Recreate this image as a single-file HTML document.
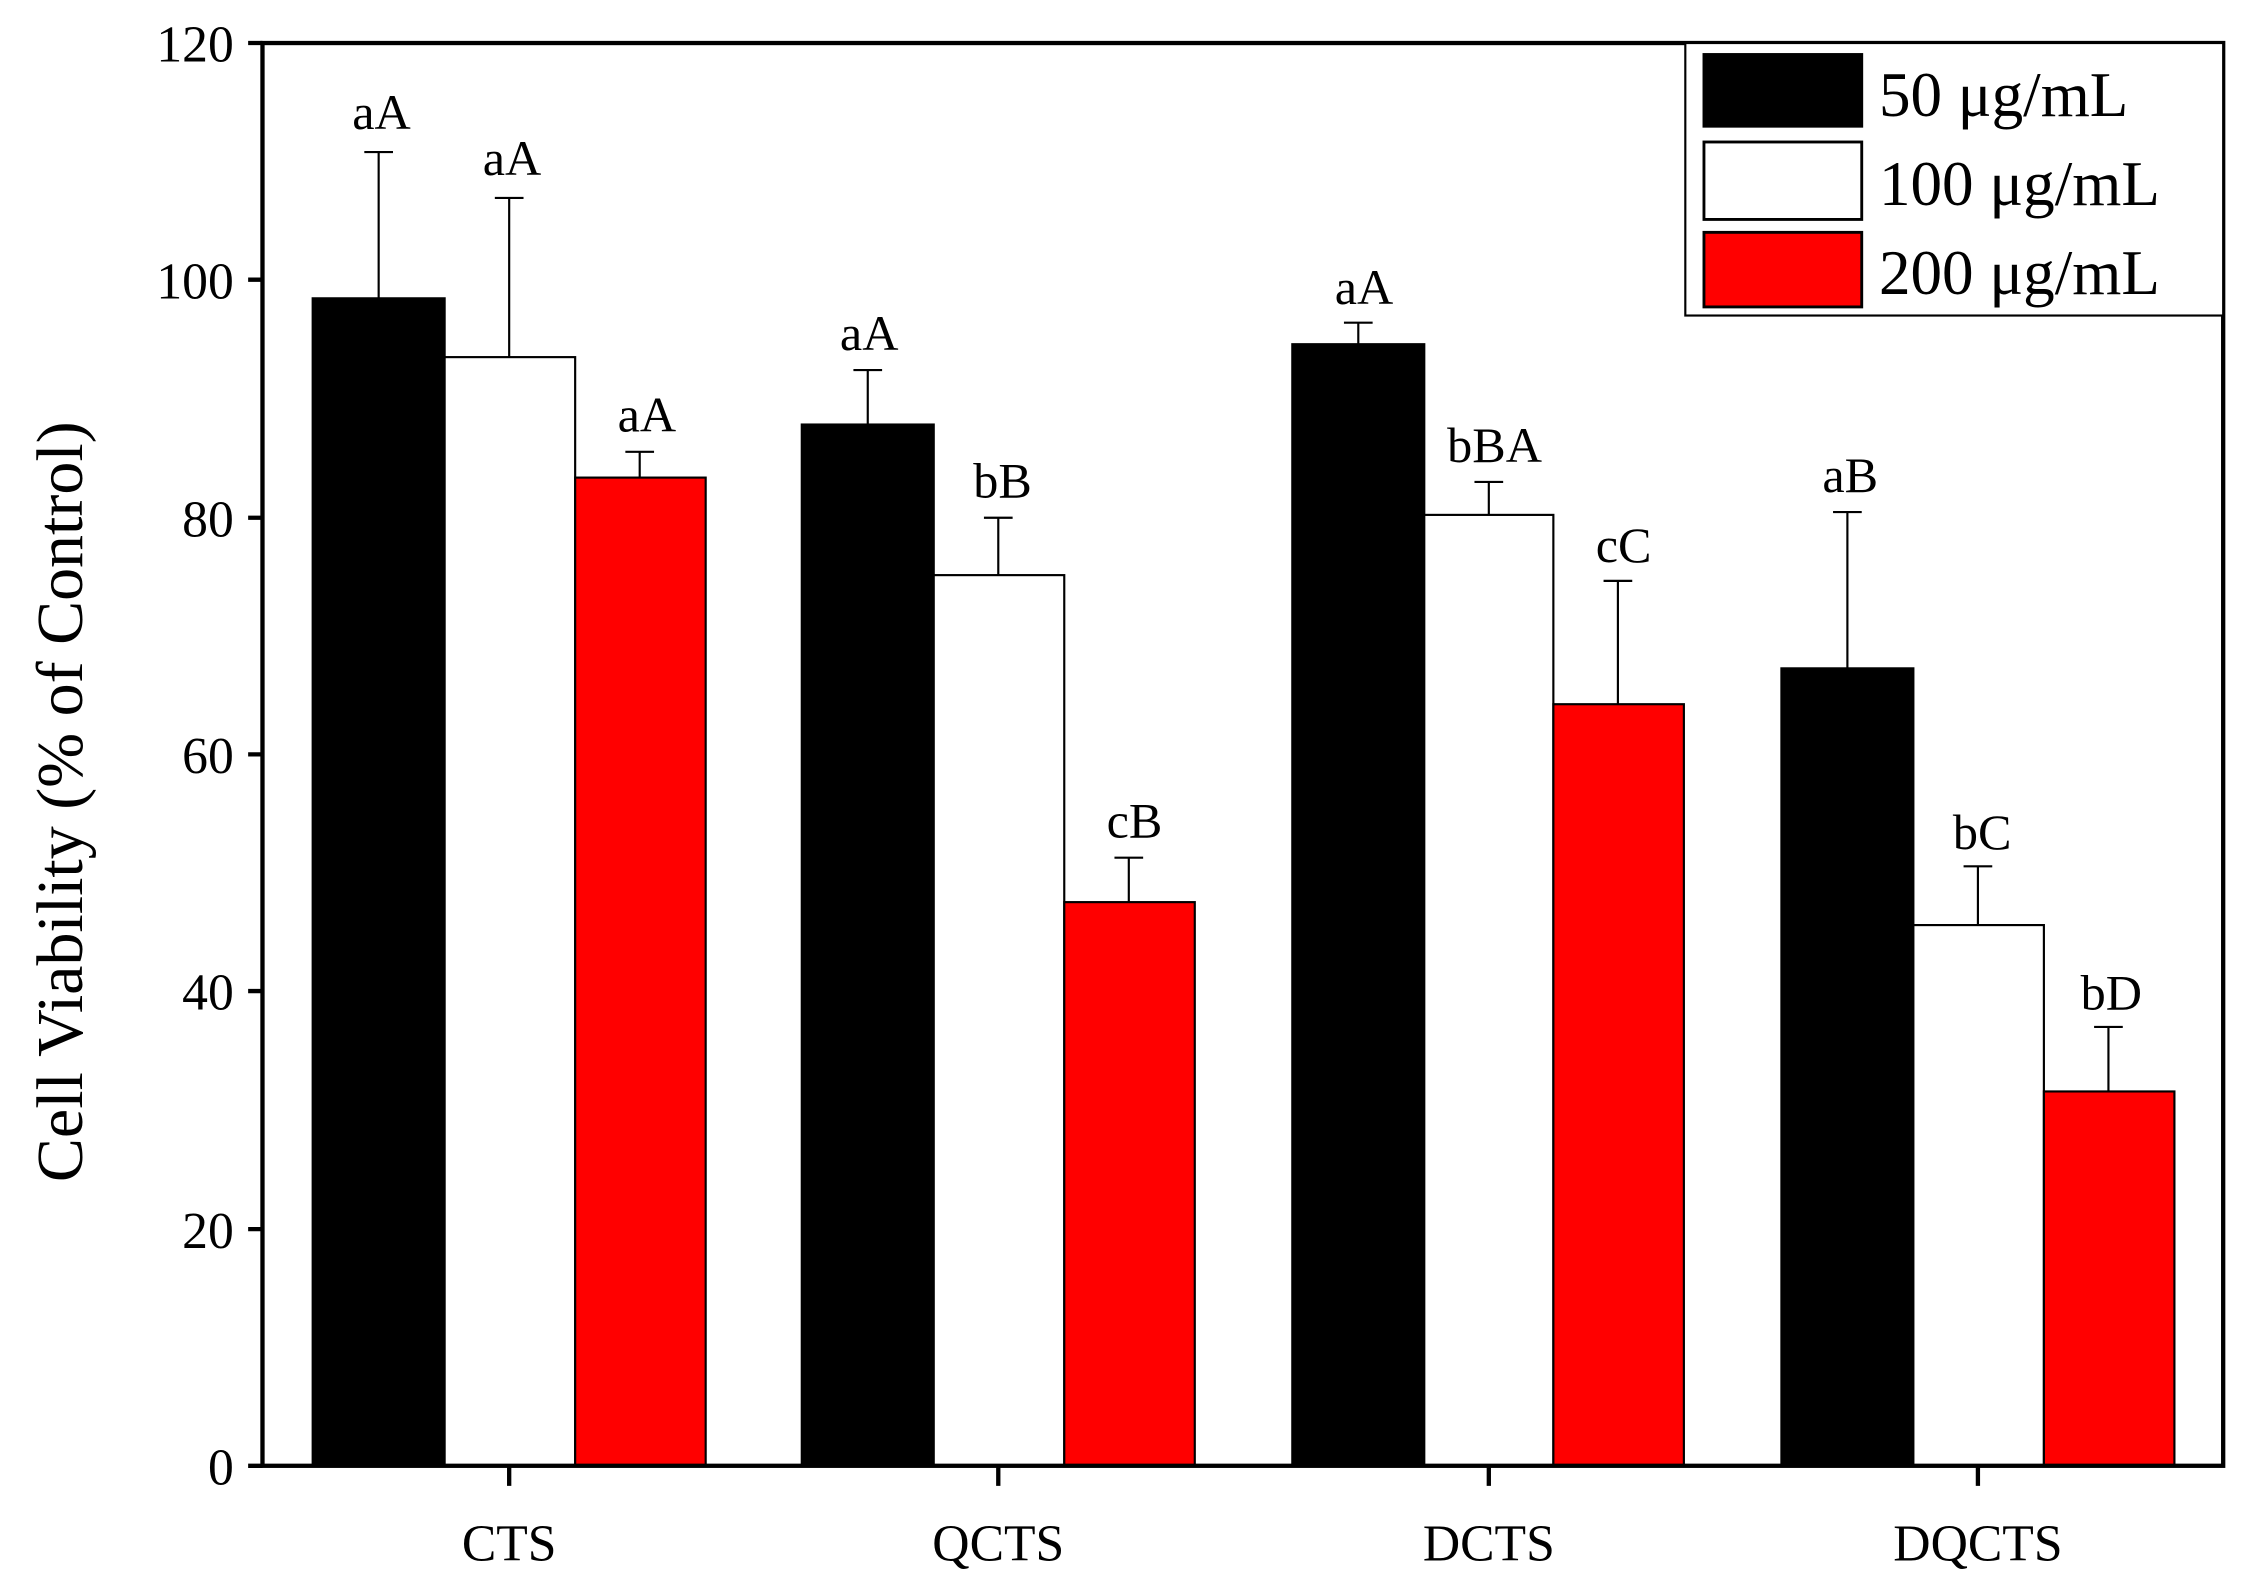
<!DOCTYPE html>
<html><head><meta charset="utf-8"><style>html,body{margin:0;padding:0;background:#fff}svg{display:block}</style></head><body>
<svg width="2249" height="1592" viewBox="0 0 1568 1110" preserveAspectRatio="none" xmlns="http://www.w3.org/2000/svg" font-family="'Liberation Serif',serif">
<rect width="1568" height="1110" fill="#fff"/>
<g stroke="#000" stroke-width="1.5">
<rect x="218" y="208" width="92" height="814" fill="#000"/>
<rect x="310" y="249" width="91" height="773" fill="#fff"/>
<rect x="401" y="333" width="91" height="689" fill="#f00"/>
<rect x="559" y="296" width="92" height="726" fill="#000"/>
<rect x="651" y="401" width="91" height="621" fill="#fff"/>
<rect x="742" y="629" width="91" height="393" fill="#f00"/>
<rect x="901" y="240" width="92" height="782" fill="#000"/>
<rect x="993" y="359" width="90" height="663" fill="#fff"/>
<rect x="1083" y="491" width="91" height="531" fill="#f00"/>
<rect x="1242" y="466" width="92" height="556" fill="#000"/>
<rect x="1334" y="645" width="91" height="377" fill="#fff"/>
<rect x="1425" y="761" width="91" height="261" fill="#f00"/>
</g>
<g stroke="#000" stroke-width="1.5" fill="none">
<path d="M264 208V106M254 106H274"/>
<path d="M355 249V138M345 138H365"/>
<path d="M446 333V315M436 315H456"/>
<path d="M605 296V258M595 258H615"/>
<path d="M696 401V361M686 361H706"/>
<path d="M787 629V598M777 598H797"/>
<path d="M947 240V225M937 225H957"/>
<path d="M1038 359V336M1028 336H1048"/>
<path d="M1128 491V405M1118 405H1138"/>
<path d="M1288 466V357M1278 357H1298"/>
<path d="M1379 645V604M1369 604H1389"/>
<path d="M1470 761V716M1460 716H1480"/>
</g>
<g font-size="35" text-anchor="middle" fill="#000">
<text x="266" y="90">aA</text>
<text x="357" y="122">aA</text>
<text x="451" y="301">aA</text>
<text x="606" y="244">aA</text>
<text x="699" y="347">bB</text>
<text x="791" y="584">cB</text>
<text x="951" y="212">aA</text>
<text x="1042" y="322">bBA</text>
<text x="1132" y="392">cC</text>
<text x="1290" y="343">aB</text>
<text x="1382" y="592">bC</text>
<text x="1472" y="704">bD</text>
</g>
<rect x="183" y="30" width="1367" height="992" fill="none" stroke="#000" stroke-width="3"/>
<g stroke="#000" stroke-width="3">
<path d="M173 30H183M173 195H183M173 361H183M173 526H183M173 691H183M173 857H183M173 1022H183"/>
<path d="M355 1022V1036M696 1022V1036M1038 1022V1036M1379 1022V1036"/>
</g>
<g font-size="36" text-anchor="end" fill="#000">
<text x="163" y="43">120</text>
<text x="163" y="208">100</text>
<text x="163" y="374">80</text>
<text x="163" y="539">60</text>
<text x="163" y="704">40</text>
<text x="163" y="870">20</text>
<text x="163" y="1035">0</text>
</g>
<g font-size="36" text-anchor="middle" fill="#000">
<text x="355" y="1088">CTS</text>
<text x="696" y="1088">QCTS</text>
<text x="1038" y="1088">DCTS</text>
<text x="1379" y="1088">DQCTS</text>
</g>
<text transform="translate(57,559) rotate(-90)" font-size="46" text-anchor="middle" fill="#000">Cell Viability (% of Control)</text>
<rect x="1175" y="30" width="375" height="190" fill="#fff" stroke="#000" stroke-width="1.5"/>
<rect x="1188" y="38" width="110" height="50" fill="#000" stroke="#000" stroke-width="2"/>
<rect x="1188" y="99" width="110" height="54" fill="#fff" stroke="#000" stroke-width="2"/>
<rect x="1188" y="162" width="110" height="52" fill="#f00" stroke="#000" stroke-width="2"/>
<g font-size="44" fill="#000">
<text x="1310" y="81">50 μg/mL</text>
<text x="1310" y="143">100 μg/mL</text>
<text x="1310" y="205">200 μg/mL</text>
</g>
</svg>
</body></html>
